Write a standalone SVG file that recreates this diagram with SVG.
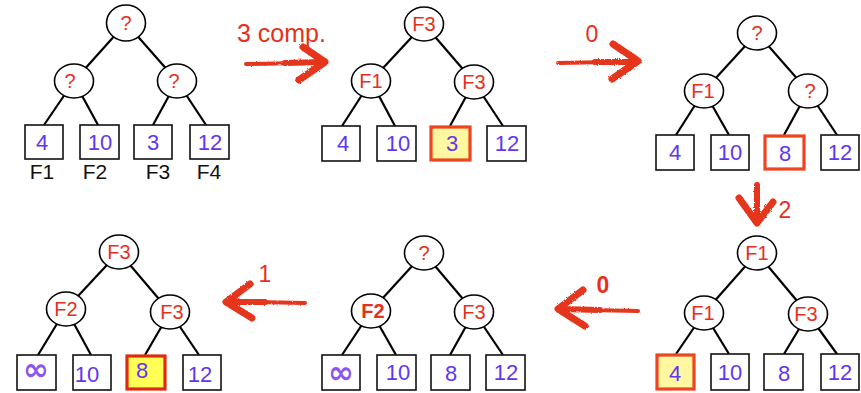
<svg xmlns="http://www.w3.org/2000/svg" width="861" height="393" viewBox="0 0 861 393">
<style>
.edge{stroke:#000;stroke-width:2.2;fill:none}
.node ellipse{fill:#fff;stroke:#000;stroke-width:1.6}
.nl{font-family:"Liberation Sans",Arial,sans-serif;font-size:20px;fill:#e5301c;text-anchor:middle}
.b{font-weight:bold}
.leaf rect{fill:#fff;stroke:#111;stroke-width:1.6}
.leaf rect.hy{fill:#fff8a0;stroke:#ee4420;stroke-width:3.2}
.leaf rect.hy2{fill:#ffff55;stroke:#dd2a10;stroke-width:3.2}
.leaf rect.hr{fill:#fff;stroke:#ee4420;stroke-width:3.2}
.lv{font-family:"Liberation Sans",Arial,sans-serif;font-size:22px;fill:#6236f0;text-anchor:middle}
.inf{font-family:"DejaVu Sans",sans-serif;font-size:31px;font-weight:bold;fill:#8a55f0;text-anchor:middle}
.fl{font-family:"Liberation Sans",Arial,sans-serif;font-size:21px;fill:#111;text-anchor:middle}
.lab{font-family:"Liberation Sans",Arial,sans-serif;font-size:23px;fill:#e5301c}
.big{font-size:25px}
.arr{stroke:#e5341a;fill:none;stroke-linecap:round;stroke-linejoin:round}
</style>
<defs>
<filter id="rough" x="-20%" y="-20%" width="140%" height="140%">
<feTurbulence type="fractalNoise" baseFrequency="0.7" numOctaves="2" seed="3"/>
<feDisplacementMap in="SourceGraphic" scale="2.5"/>
</filter>
</defs>

<g id="connectors">
<line class="edge" x1="126" y1="23" x2="74" y2="81"/><line class="edge" x1="126" y1="23" x2="177" y2="81"/>
<line class="edge" x1="74" y1="81" x2="44" y2="125"/><line class="edge" x1="74" y1="81" x2="98" y2="125"/>
<line class="edge" x1="177" y1="81" x2="153" y2="125"/><line class="edge" x1="177" y1="81" x2="206" y2="125"/>
<line class="edge" x1="424" y1="24" x2="371" y2="81"/><line class="edge" x1="424" y1="24" x2="474" y2="82"/>
<line class="edge" x1="371" y1="81" x2="342" y2="126"/><line class="edge" x1="371" y1="81" x2="395" y2="126"/>
<line class="edge" x1="474" y1="82" x2="450" y2="126"/><line class="edge" x1="474" y1="82" x2="503" y2="126"/>
<line class="edge" x1="757" y1="33" x2="704" y2="91"/><line class="edge" x1="757" y1="33" x2="808" y2="91"/>
<line class="edge" x1="704" y1="91" x2="676" y2="135"/><line class="edge" x1="704" y1="91" x2="729" y2="135"/>
<line class="edge" x1="808" y1="91" x2="784" y2="135"/><line class="edge" x1="808" y1="91" x2="837" y2="135"/>
<line class="edge" x1="757" y1="253" x2="704" y2="313"/><line class="edge" x1="757" y1="253" x2="808" y2="314"/>
<line class="edge" x1="704" y1="313" x2="676" y2="354"/><line class="edge" x1="704" y1="313" x2="729" y2="354"/>
<line class="edge" x1="808" y1="314" x2="784" y2="354"/><line class="edge" x1="808" y1="314" x2="837" y2="354"/>
<line class="edge" x1="424" y1="253" x2="371" y2="311"/><line class="edge" x1="424" y1="253" x2="474" y2="312"/>
<line class="edge" x1="371" y1="311" x2="342" y2="355"/><line class="edge" x1="371" y1="311" x2="396" y2="355"/>
<line class="edge" x1="474" y1="312" x2="450" y2="355"/><line class="edge" x1="474" y1="312" x2="503" y2="355"/>
<line class="edge" x1="119" y1="252" x2="66" y2="309"/><line class="edge" x1="119" y1="252" x2="170" y2="312"/>
<line class="edge" x1="66" y1="309" x2="38" y2="355"/><line class="edge" x1="66" y1="309" x2="91" y2="355"/>
<line class="edge" x1="170" y1="312" x2="145" y2="355"/><line class="edge" x1="170" y1="312" x2="199" y2="355"/>
</g>

<g id="t1-root" class="node"><ellipse cx="126" cy="23" rx="19.5" ry="18"/><text class="nl" x="126" y="30">?</text></g>
<g id="t1-l" class="node"><ellipse cx="74" cy="81" rx="19.5" ry="17"/><text class="nl" x="70" y="88">?</text></g>
<g id="t1-r" class="node"><ellipse cx="177" cy="81" rx="19.5" ry="17"/><text class="nl" x="174" y="88">?</text></g>
<g id="t1-f1" class="leaf"><rect x="25" y="125" width="38" height="34"/><text class="lv" x="42" y="150">4</text><text class="fl" x="42" y="179">F1</text></g>
<g id="t1-f2" class="leaf"><rect x="80" y="125" width="39" height="34"/><text class="lv" x="100" y="150">10</text><text class="fl" x="95" y="179">F2</text></g>
<g id="t1-f3" class="leaf"><rect x="134" y="125" width="38" height="34"/><text class="lv" x="153" y="150">3</text><text class="fl" x="158" y="179">F3</text></g>
<g id="t1-f4" class="leaf"><rect x="190" y="125" width="39" height="34"/><text class="lv" x="210" y="150">12</text><text class="fl" x="209" y="179">F4</text></g>

<g id="t2-root" class="node"><ellipse cx="424" cy="24" rx="19.5" ry="17"/><text class="nl" x="424" y="31">F3</text></g>
<g id="t2-l" class="node"><ellipse cx="371" cy="81" rx="19.5" ry="17"/><text class="nl" x="371" y="88">F1</text></g>
<g id="t2-r" class="node"><ellipse cx="474" cy="82" rx="19.5" ry="17"/><text class="nl" x="474" y="89">F3</text></g>
<g id="t2-f1" class="leaf"><rect x="322" y="126" width="38" height="35"/><text class="lv" x="343" y="151">4</text></g>
<g id="t2-f2" class="leaf"><rect x="377" y="126" width="39" height="35"/><text class="lv" x="398" y="151">10</text></g>
<g id="t2-f3" class="leaf"><rect class="hy" x="431" y="127" width="39" height="33"/><text class="lv" x="452" y="151">3</text></g>
<g id="t2-f4" class="leaf"><rect x="487" y="126" width="39" height="35"/><text class="lv" x="507" y="151">12</text></g>

<g id="t3-root" class="node"><ellipse cx="757" cy="33" rx="19.5" ry="17"/><text class="nl" x="757" y="40">?</text></g>
<g id="t3-l" class="node"><ellipse cx="704" cy="91" rx="19.5" ry="17"/><text class="nl" x="703" y="98">F1</text></g>
<g id="t3-r" class="node"><ellipse cx="808" cy="91" rx="19.5" ry="17"/><text class="nl" x="810" y="98">?</text></g>
<g id="t3-f1" class="leaf"><rect x="656" y="135" width="38" height="35"/><text class="lv" x="675" y="160">4</text></g>
<g id="t3-f2" class="leaf"><rect x="711" y="135" width="38" height="35"/><text class="lv" x="730" y="160">10</text></g>
<g id="t3-f3" class="leaf"><rect class="hr" x="765" y="136" width="39" height="33"/><text class="lv" x="785" y="161">8</text></g>
<g id="t3-f4" class="leaf"><rect x="821" y="135" width="38" height="35"/><text class="lv" x="840" y="160">12</text></g>

<g id="t4-root" class="node"><ellipse cx="757" cy="253" rx="19.5" ry="17"/><text class="nl" x="757" y="260">F1</text></g>
<g id="t4-l" class="node"><ellipse cx="704" cy="313" rx="19.5" ry="17"/><text class="nl" x="703" y="320">F1</text></g>
<g id="t4-r" class="node"><ellipse cx="808" cy="314" rx="19.5" ry="17"/><text class="nl" x="806" y="321">F3</text></g>
<g id="t4-f1" class="leaf"><rect class="hy" x="657" y="355" width="37" height="34"/><text class="lv" x="675" y="381">4</text></g>
<g id="t4-f2" class="leaf"><rect x="711" y="354" width="38" height="36"/><text class="lv" x="730" y="380">10</text></g>
<g id="t4-f3" class="leaf"><rect x="764" y="354" width="39" height="36"/><text class="lv" x="784" y="381">8</text></g>
<g id="t4-f4" class="leaf"><rect x="821" y="354" width="38" height="36"/><text class="lv" x="840" y="380">12</text></g>

<g id="t5-root" class="node"><ellipse cx="424" cy="253" rx="19.5" ry="17"/><text class="nl" x="424" y="260">?</text></g>
<g id="t5-l" class="node"><ellipse cx="371" cy="311" rx="19.5" ry="17"/><text class="nl b" x="373" y="318">F2</text></g>
<g id="t5-r" class="node"><ellipse cx="474" cy="312" rx="19.5" ry="17"/><text class="nl" x="474" y="319">F3</text></g>
<g id="t5-f1" class="leaf"><rect x="322" y="355" width="38" height="35"/><text class="inf" x="341" y="383">∞</text></g>
<g id="t5-f2" class="leaf"><rect x="377" y="355" width="39" height="35"/><text class="lv" x="398" y="380">10</text></g>
<g id="t5-f3" class="leaf"><rect x="431" y="355" width="39" height="35"/><text class="lv" x="451" y="381">8</text></g>
<g id="t5-f4" class="leaf"><rect x="486" y="355" width="39" height="35"/><text class="lv" x="506" y="380">12</text></g>

<g id="t6-root" class="node"><ellipse cx="119" cy="252" rx="19.5" ry="17"/><text class="nl" x="119" y="259">F3</text></g>
<g id="t6-l" class="node"><ellipse cx="66" cy="309" rx="19.5" ry="17"/><text class="nl" x="66" y="316">F2</text></g>
<g id="t6-r" class="node"><ellipse cx="170" cy="312" rx="19.5" ry="17"/><text class="nl" x="172" y="319">F3</text></g>
<g id="t6-f1" class="leaf"><rect x="17" y="355" width="39" height="35"/><text class="inf" x="36" y="380">∞</text></g>
<g id="t6-f2" class="leaf"><rect x="73" y="355" width="38" height="35"/><text class="lv" x="87" y="382">10</text></g>
<g id="t6-f3" class="leaf"><rect class="hy2" x="127" y="356" width="38" height="33"/><text class="lv" x="142" y="378">8</text></g>
<g id="t6-f4" class="leaf"><rect x="183" y="355" width="38" height="35"/><text class="lv" x="200" y="382">12</text></g>

<g id="step1">
<text class="lab big" x="237" y="42">3 comp.</text>
<g filter="url(#rough)">
<path class="arr" stroke-width="4" d="M246 64 L300 63"/>
<path class="arr" stroke-width="6" d="M285 63 L322 62"/>
<path class="arr" stroke-width="7" d="M303 47 L325 62 L299 80"/>
</g>
</g>
<g id="step2">
<text class="lab" x="592" y="42" text-anchor="middle">0</text>
<g filter="url(#rough)">
<path class="arr" stroke-width="4" d="M558 63 L610 62"/>
<path class="arr" stroke-width="6" d="M595 62 L635 62"/>
<path class="arr" stroke-width="7" d="M613 44 L638 61 L612 79"/>
</g>
</g>
<g id="step3">
<text class="lab" x="785" y="218" text-anchor="middle">2</text>
<g filter="url(#rough)">
<path class="arr" stroke-width="6" d="M757 185 L757 220"/>
<path class="arr" stroke-width="7" d="M739 198 L757 223 L773 202"/>
</g>
</g>
<g id="step4">
<text class="lab b" x="603" y="293" text-anchor="middle">0</text>
<g filter="url(#rough)">
<path class="arr" stroke-width="4" d="M638 311 L590 310"/>
<path class="arr" stroke-width="6" d="M600 310 L561 309"/>
<path class="arr" stroke-width="7" d="M583 290 L558 309 L585 326"/>
</g>
</g>
<g id="step5">
<text class="lab" x="265" y="282" text-anchor="middle">1</text>
<g filter="url(#rough)">
<path class="arr" stroke-width="4" d="M305 303 L255 302"/>
<path class="arr" stroke-width="6" d="M265 302 L229 302"/>
<path class="arr" stroke-width="7" d="M250 284 L226 302 L252 318"/>
</g>
</g>
</svg>
